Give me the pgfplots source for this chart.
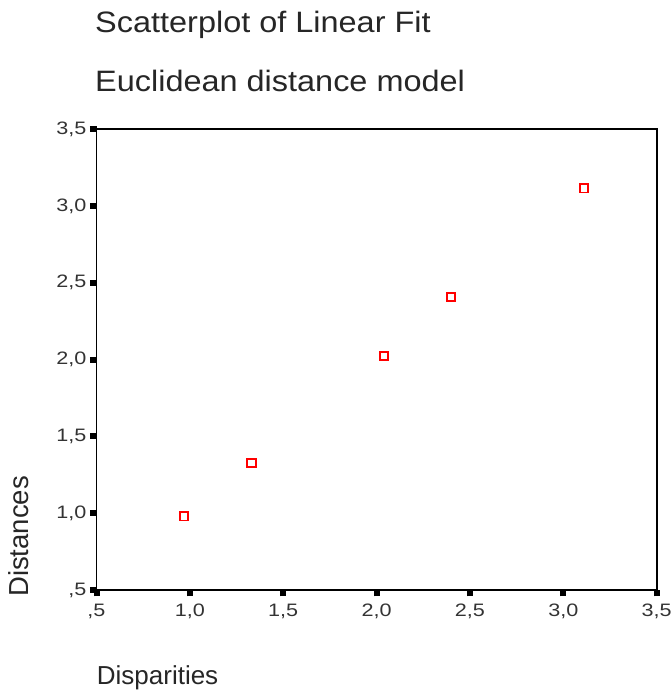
\documentclass[border=0pt]{standalone}
\usepackage{fontspec}
\setmainfont{Liberation Sans}
\newfontfamily\tickfont{Liberation Sans}[FakeStretch=1.2]
\newfontfamily\titlefont{Liberation Sans}[FakeStretch=1.1]
\usepackage{pgfplots}
\pgfplotsset{compat=1.18}
\begin{document}
\begin{tikzpicture}[x=1pt,y=1pt]
\path[use as bounding box] (0,0) rectangle (671,692);
\begin{axis}[
  at={(96.5pt,102pt)}, anchor=south west,
  scale only axis, width=560.2pt, height=460.7pt,
  xmin=0.5, xmax=3.5, ymin=0.5, ymax=3.5,
  xtick={0.5,1,1.5,2,2.5,3,3.5},
  ytick={0.5,1,1.5,2,2.5,3,3.5},
  xticklabels={{,5},{1,0},{1,5},{2,0},{2,5},{3,0},{3,5}},
  yticklabels={{,5},{1,0},{1,5},{2,0},{2,5},{3,0},{3,5}},
  axis line style={line width=1.8pt, black},
  tick align=outside, major tick length=6.5pt,
  every tick/.style={line width=6pt, black},
  xtick pos=bottom, ytick pos=left,
  ticklabel style={font=\tickfont\fontsize{18}{20}\selectfont, text=black!80, inner sep=0pt},
  xticklabel style={anchor=north, yshift=-7pt},
  yticklabel style={anchor=east, xshift=-3.5pt},
  clip=false,
]
\addplot[only marks, mark=square, mark size=4.2pt, red, mark options={line width=1.7pt, draw=red}]
 coordinates {(0.969,0.980) (1.330,1.327) (2.040,2.023) (2.399,2.408) (3.110,3.115)};
\end{axis}
\node[anchor=base west, inner sep=0pt, text=black!85, font=\titlefont\fontsize{29.5}{34}\selectfont] at (95,659.7) {Scatterplot of Linear Fit};
\node[anchor=base west, inner sep=0pt, text=black!85, font=\titlefont\fontsize{29.5}{34}\selectfont] at (95,600) {Euclidean distance model};
\node[anchor=base west, inner sep=0pt, text=black!85, font=\fontsize{26}{30}\selectfont] at (96.7,7) {Disparities};
\node[anchor=base west, rotate=90, inner sep=0pt, text=black!85, font=\fontsize{27.5}{31}\selectfont] at (28.3,95) {Distances};
\end{tikzpicture}
\end{document}
